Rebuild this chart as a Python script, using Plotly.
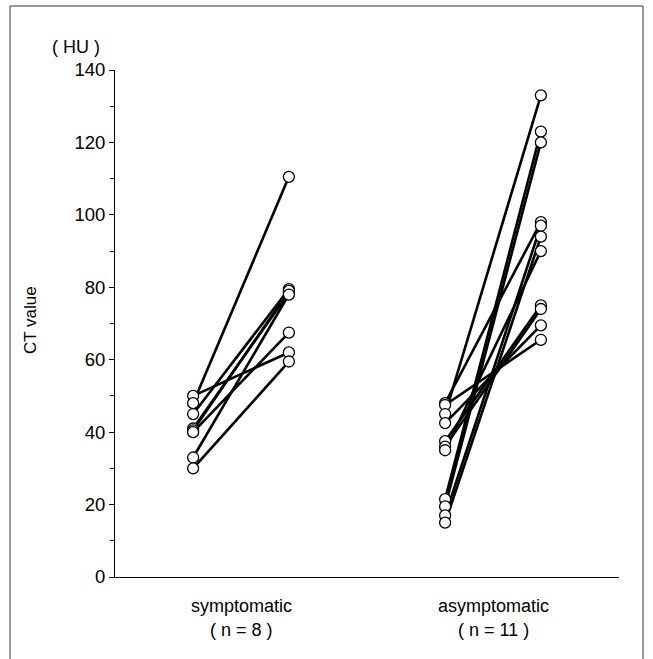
import plotly.graph_objects as go

# ---- data (CT values in HU, pre -> post) ----
groups = ["symptomatic", "asymptomatic"]
group_n = ["( n = 8 )", "( n = 11 )"]

sym_pre = [50, 48, 45, 41, 40.5, 40, 33, 30]
sym_post = [62, 110.5, 79.5, 78.5, 79, 67.5, 78, 59.5]

asym_pre = [48, 47.5, 45, 42.5, 37.5, 36, 35, 21.5, 19.5, 17, 15]
asym_post = [98, 65.5, 133, 69.5, 75, 74, 90, 123, 120, 97, 94]

y_ticks = [0, 20, 40, 60, 80, 100, 120, 140]

# group centres on a numeric axis and the offset of the two time points
group_pos = [1, 2]
offset = 0.19

W, H = 653, 659
L, R, T, B = 115, 34, 70, 82
pw, ph = W - L - R, H - T - B

fig = go.Figure()

def add_group(pos, pre, post):
    xs, ys = [], []
    for a, b in zip(pre, post):
        xs += [pos - offset, pos + offset, None]
        ys += [a, b, None]
    fig.add_trace(go.Scatter(x=xs, y=ys, mode="lines",
                             line=dict(color="black", width=2.6),
                             hoverinfo="skip", showlegend=False))
    fig.add_trace(go.Scatter(x=[pos - offset] * len(pre) + [pos + offset] * len(post),
                             y=list(pre) + list(post), mode="markers",
                             marker=dict(symbol="circle", size=11, color="white",
                                         line=dict(color="black", width=1.3)),
                             showlegend=False))

add_group(group_pos[0], sym_pre, sym_post)
add_group(group_pos[1], asym_pre, asym_post)

fam = "Liberation Sans, Arial, sans-serif"
font = dict(family=fam, size=18, color="black")

fig.update_layout(
    width=W, height=H,
    margin=dict(l=L, r=R, t=T, b=B),
    paper_bgcolor="white", plot_bgcolor="white",
    font=font,
    xaxis=dict(range=[0.5, 2.5], showline=True, linecolor="black", linewidth=1,
               showticklabels=False, ticks="", showgrid=False, zeroline=False,
               fixedrange=True),
    yaxis=dict(range=[0, 140], tickvals=y_ticks, showline=True, linecolor="black",
               linewidth=1, ticks="outside", ticklen=5, tickcolor="black",
               tickfont=dict(family=fam, size=18.5, color="black"),
               showgrid=False, zeroline=False,
               minor=dict(dtick=10, ticks="outside", ticklen=4, tickcolor="black")),
)

# x labels
for pos, name, n in zip(group_pos, groups, group_n):
    fig.add_annotation(x=pos, xref="x", y=0, yref="paper", yshift=-29,
                       xanchor="center", yanchor="middle",
                       text=name, showarrow=False, font=font)
    fig.add_annotation(x=pos, xref="x", y=0, yref="paper", yshift=-53,
                       xanchor="center", yanchor="middle",
                       text=n, showarrow=False, font=font)

# axis title and unit
fig.add_annotation(x=(30 - L) / pw, xref="paper", y=(H - B - 320) / ph, yref="paper",
                   xanchor="center", yanchor="middle",
                   text="CT value", textangle=-90, showarrow=False,
                   font=dict(family=fam, size=17, color="black"))
fig.add_annotation(x=(76 - L) / pw, xref="paper", y=(H - B - 47) / ph, yref="paper",
                   xanchor="center", yanchor="middle",
                   text="( HU )", showarrow=False, font=font)

# outer frame
fig.add_shape(type="rect", xref="paper", yref="paper",
              x0=(10 - L) / pw, x1=(643 - L) / pw,
              y0=(H - B - 700) / ph, y1=(H - B - 6) / ph,
              line=dict(color="#333333", width=1), layer="below")

fig.write_html("out.html", config={"displayModeBar": False},
               post_script="document.body.style.margin='0';document.body.style.padding='0';")
